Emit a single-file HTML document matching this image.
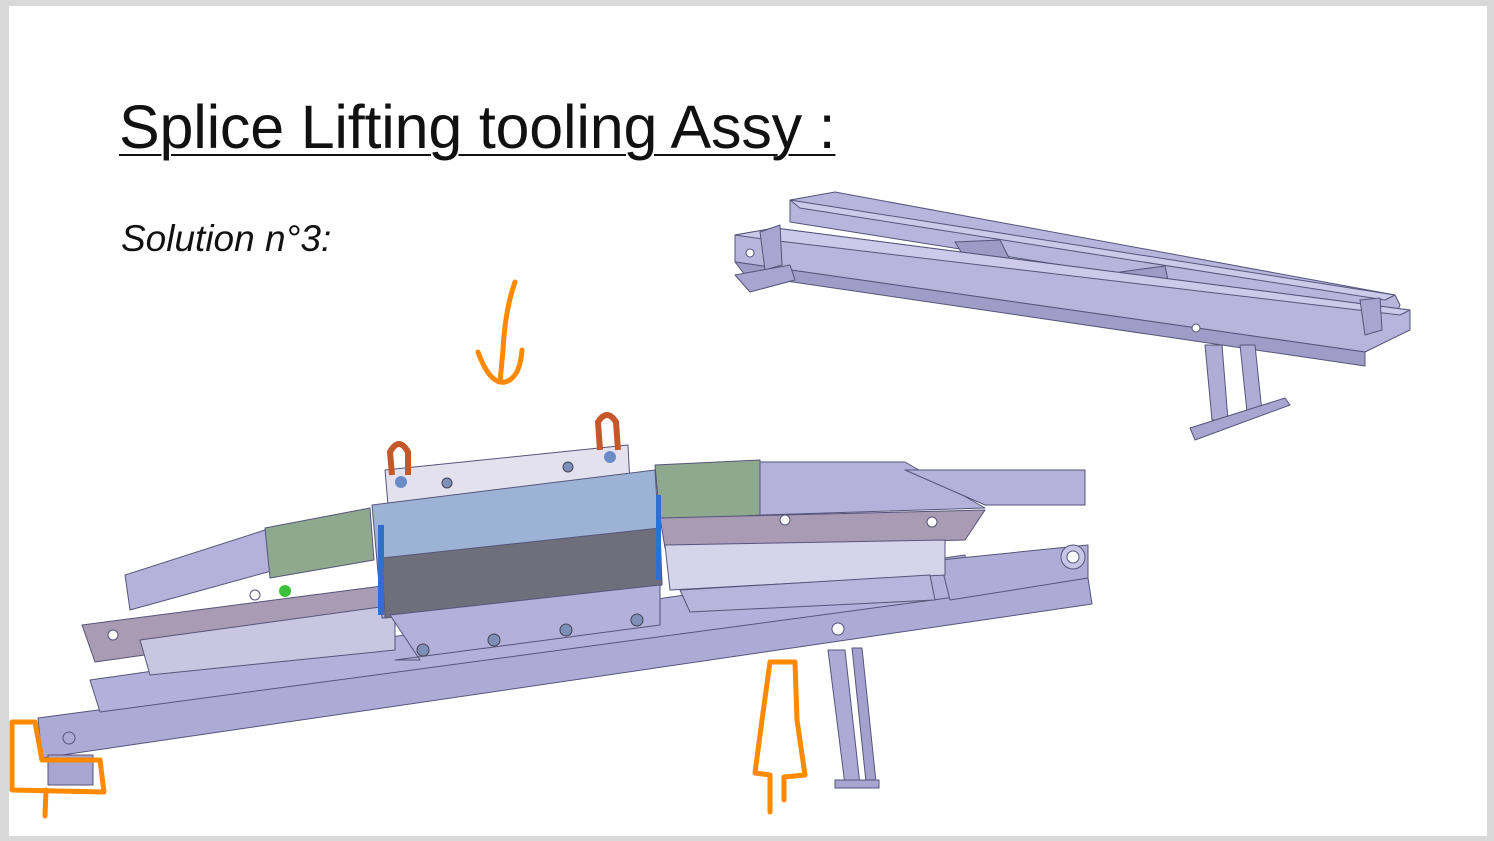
<!DOCTYPE html>
<html><head><style>
html,body{margin:0;padding:0;width:1494px;height:841px;overflow:hidden;background:#d9d9d9}
#s{position:absolute;left:9px;top:6px;width:1478px;height:830px;background:#fff}
.t{position:absolute;left:119px;top:92px;font-family:"Liberation Sans",sans-serif;font-size:61px;color:#111;text-decoration:underline;text-decoration-thickness:2px;text-underline-offset:6px;letter-spacing:-0.2px;white-space:nowrap}
.sol{position:absolute;left:121px;top:218px;font-family:"Liberation Sans",sans-serif;font-style:italic;font-size:37px;color:#111;white-space:nowrap;letter-spacing:0px}
svg{position:absolute;left:0;top:0}
</style></head><body>
<div id="s"></div>
<div class="t">Splice Lifting tooling Assy :</div>
<div class="sol">Solution n°3:</div>
<svg width="1494" height="841" viewBox="0 0 1494 841">
<g stroke="#55557a" stroke-width="1" stroke-linejoin="round">
<!-- top right frame -->
<polygon points="790,200 835,192 1395,295 1400,305 1395,318 790,222" fill="#b8b5dc"/>
<polygon points="790,200 1395,295 1385,300 800,208" fill="#ccc9ea"/>
<polygon points="955,242 1000,240 1015,270 975,275" fill="#9e9ac6"/>
<polygon points="1120,272 1165,266 1172,298 1135,300" fill="#9e9ac6"/>
<polygon points="735,235 775,228 1410,310 1410,330 1365,352 735,262" fill="#b8b5dc"/>
<polygon points="735,262 1365,352 1365,366 745,275" fill="#a09cc8"/>
<polygon points="735,235 775,228 1410,310 1400,315 770,240" fill="#ccc9ea"/>
<polygon points="760,232 780,225 782,265 765,270" fill="#a9a5d0"/>
<polygon points="1360,300 1380,298 1382,330 1365,335" fill="#a9a5d0"/>
<polygon points="1205,345 1222,345 1228,420 1212,420" fill="#b0acd6"/>
<polygon points="1240,345 1255,345 1262,412 1247,412" fill="#b0acd6"/>
<polygon points="1190,428 1285,398 1290,405 1195,440" fill="#a9a5d0"/>
<polygon points="735,275 790,265 795,280 750,292" fill="#a9a5d0"/>
<circle cx="750" cy="253" r="4" fill="#fff"/><circle cx="1196" cy="328" r="4" fill="#fff"/>
<!-- main lower beam -->
<polygon points="38,718 1088,578 1092,604 42,758" fill="#aeaad6"/>
<polygon points="90,680 965,555 970,595 100,712" fill="#b4b0dc"/>
<polygon points="940,560 1088,545 1088,578 950,600" fill="#b0acd8"/>
<circle cx="1073" cy="557" r="12" fill="#c8c5e8"/><circle cx="1073" cy="557" r="6" fill="#fff"/>
<polygon points="828,650 845,650 860,785 845,785" fill="#aeaad6"/>
<polygon points="852,648 862,648 876,782 866,782" fill="#a5a1ce"/>
<rect x="835" y="780" width="44" height="8" fill="#a9a5d0"/>
<rect x="48" y="755" width="45" height="30" fill="#a9a5d0"/>
<circle cx="69" cy="738" r="6" fill="none"/>
<!-- plates -->
<polygon points="82,625 390,585 392,620 95,662" fill="#a99bb3"/>
<polygon points="140,640 395,605 395,650 150,675" fill="#c8c6e0"/>
<polygon points="125,575 265,530 275,570 130,610" fill="#b5b1da"/>
<polygon points="265,528 370,508 374,560 270,578" fill="#8fa98e"/>
<polygon points="385,470 628,445 630,485 388,505" fill="#e3e1ee"/>
<polygon points="372,505 655,470 662,585 382,618" fill="#9db3d6"/>
<polygon points="382,558 660,528 662,585 385,618" fill="#6f6f7c"/>
<polygon points="390,615 660,585 660,625 395,660 420,660" fill="#b4b0dc"/>
<polygon points="655,465 760,460 762,515 660,520" fill="#8fa98e"/>
<polygon points="760,462 905,462 985,508 760,515" fill="#b5b1da"/>
<polygon points="905,470 1085,470 1085,505 985,505" fill="#b5b1da"/>
<polygon points="660,518 985,510 965,540 665,548" fill="#a99bb3"/>
<polygon points="665,545 945,540 945,575 670,590" fill="#d6d4ea"/>
<polygon points="680,590 930,575 935,600 690,612" fill="#b8b4dc"/>
<rect x="378" y="525" width="6" height="90" fill="#2e6fd0" stroke="none"/>
<rect x="656" y="495" width="5" height="85" fill="#2e6fd0" stroke="none"/>
</g>
<g fill="#fff" stroke="#55557a">
<circle cx="838" cy="629" r="6"/><circle cx="113" cy="635" r="5"/><circle cx="255" cy="595" r="5"/>
<circle cx="785" cy="520" r="5"/><circle cx="932" cy="522" r="5"/>
</g>
<g fill="#7e8fb8" stroke="#445">
<circle cx="423" cy="650" r="6"/><circle cx="494" cy="640" r="6"/><circle cx="566" cy="630" r="6"/><circle cx="637" cy="620" r="6"/>
<circle cx="447" cy="483" r="5"/><circle cx="568" cy="467" r="5"/>
</g>
<circle cx="285" cy="591" r="6" fill="#3cc03c"/>
<g fill="none" stroke="#c4582a" stroke-width="6">
<path d="M392 475 L390 452 Q399 436 408 452 L408 475"/>
<path d="M600 450 L598 422 Q607 408 616 422 L618 450"/>
</g>
<circle cx="401" cy="482" r="6" fill="#6a8cc6"/><circle cx="610" cy="457" r="6" fill="#6a8cc6"/>
<g fill="none" stroke="#ff8a00" stroke-width="5" stroke-linecap="round" stroke-linejoin="round">
<path d="M515 282 Q505 310 503 350 L500 382 M478 352 Q490 385 505 382 Q520 378 522 350"/>
<path d="M13 722 L35 722 L42 760 L100 760 L104 792 L12 790 L12 722"/>
<path d="M46 790 L45 816"/>
<path d="M770 662 L795 662 L797 720 L805 775 L784 777 L784 800 M770 662 L762 720 L755 773 L770 775 L770 812"/>
</g>
</svg>
</body></html>
